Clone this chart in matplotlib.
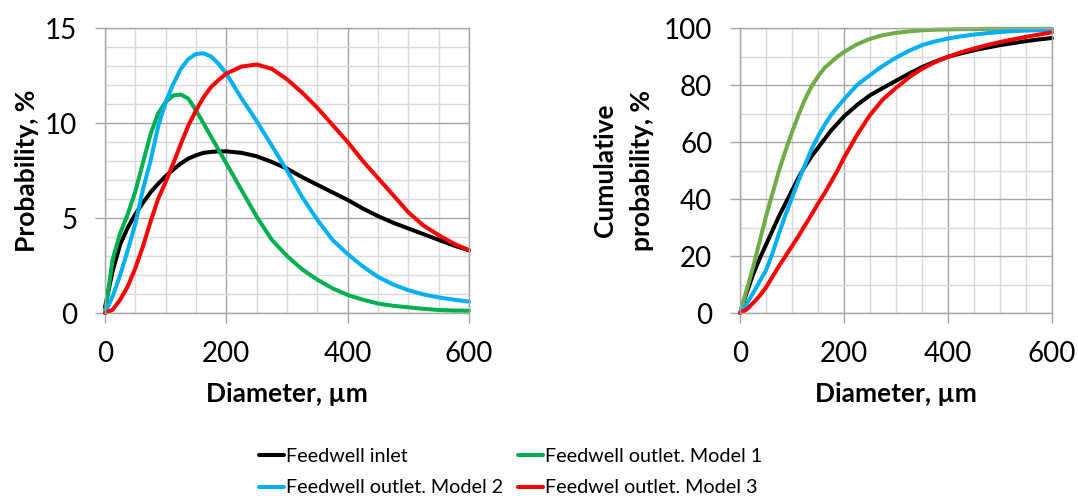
import numpy as np
import matplotlib
matplotlib.use("Agg")
import matplotlib.pyplot as plt
from matplotlib.ticker import MultipleLocator

plt.rcParams["font.family"] = ["Lato", "DejaVu Sans"]

# diameter grid, µm (finer steps where the curves bend most)
diameter = [0, 12.5, 25, 37.5, 50, 62.5, 75, 87.5, 100, 112.5, 125, 137.5,
            150, 162.5, 175, 187.5, 200, 225, 250, 275, 300, 325, 350, 375,
            400, 425, 450, 475, 500, 525, 550, 575, 600]

# probability density, %
prob_inlet = [0.3, 2.2, 3.6, 4.5, 5.2, 5.8, 6.35, 6.8, 7.2, 7.55, 7.87, 8.13,
              8.3, 8.43, 8.48, 8.51, 8.51, 8.43, 8.25, 7.95, 7.6, 7.15, 6.75, 6.35,
              5.95, 5.5, 5.1, 4.75, 4.45, 4.15, 3.85, 3.55, 3.3]
prob_model1 = [0.0, 2.8, 4.2, 5.2, 6.4, 7.9, 9.4, 10.5, 11.1, 11.45, 11.5, 11.28,
               10.66, 9.97, 9.27, 8.57, 7.87, 6.47, 5.07, 3.85, 3.0, 2.3, 1.75, 1.3,
               0.95, 0.7, 0.5, 0.38, 0.3, 0.22, 0.16, 0.13, 0.12]
prob_model2 = [0.0, 0.87, 2.0, 3.3, 4.7, 6.5, 8.0, 9.8, 11.1, 12.06, 12.85, 13.37,
               13.63, 13.67, 13.5, 13.1, 12.6, 11.3, 10.1, 8.8, 7.5, 6.1, 4.9, 3.85,
               3.1, 2.45, 1.9, 1.5, 1.2, 0.98, 0.82, 0.7, 0.6]
prob_model3 = [0.0, 0.17, 0.7, 1.4, 2.36, 3.5, 4.8, 6.0, 6.9, 7.87, 8.9, 9.88,
               10.66, 11.36, 11.9, 12.27, 12.6, 12.97, 13.08, 12.85, 12.3, 11.6, 10.8, 9.9,
               9.0, 8.0, 7.1, 6.2, 5.3, 4.6, 4.1, 3.65, 3.3]

# cumulative probability, %
cum_inlet = [0, 7, 13.5, 19, 24, 29, 34, 38.5, 43, 47.5, 51.5, 55,
             58, 61, 64, 66.5, 69, 73, 76.4, 79, 81.5, 84, 86.3, 88.2,
             89.9, 91.1, 92.2, 93.1, 94, 94.7, 95.4, 96, 96.5]
cum_model1 = [0, 8, 16, 25, 34, 42, 50, 57, 63.5, 69.5, 75, 79.5,
              83, 86, 88, 90, 91.6, 94.3, 96.2, 97.5, 98.3, 98.8, 99.2, 99.4,
              99.5, 99.6, 99.6, 99.7, 99.7, 99.7, 99.7, 99.7, 99.7]
cum_model2 = [0, 3, 7, 11, 15, 21, 28, 34.5, 40.5, 46.5, 52, 57.5,
              62, 66, 69.5, 72.3, 75, 80, 83.5, 86.8, 89.6, 92, 94, 95.3,
              96.3, 97.1, 97.7, 98.2, 98.6, 98.9, 99.1, 99.2, 99.3]
cum_model3 = [0, 1.2, 3.5, 6, 9, 12.8, 16.5, 20, 23.5, 27, 30.8, 34.5,
              38.4, 42, 46, 50, 54.5, 62.5, 69.5, 75, 79, 82.7, 85.7, 88,
              89.9, 91.5, 92.8, 94, 95.1, 96, 96.9, 97.7, 98.5]

labels = ["Feedwell inlet", "Feedwell outlet. Model 1",
          "Feedwell outlet. Model 2", "Feedwel outlet. Model 3"]
colors_left = ["#000000", "#00B050", "#00B0F0", "#FF0000"]
colors_right = ["#000000", "#70AD47", "#00B0F0", "#FF0000"]

major_grid = "#a6a6a6"
minor_grid = "#d9d9d9"

fig = plt.figure(figsize=(10.78, 5.03), dpi=100)
ax1 = fig.add_axes([0.0974, 0.3777, 0.3377, 0.5666])
ax2 = fig.add_axes([0.6865, 0.3777, 0.2894, 0.5666])


def style_axes(ax, ymax, ymajor, yminor):
    ax.set_xlim(0, 600)
    ax.set_ylim(0, ymax)
    ax.xaxis.set_major_locator(MultipleLocator(200))
    ax.xaxis.set_minor_locator(MultipleLocator(50))
    ax.yaxis.set_major_locator(MultipleLocator(ymajor))
    ax.yaxis.set_minor_locator(MultipleLocator(yminor))
    ax.grid(which="major", color=major_grid, linewidth=1.0)
    ax.grid(which="minor", color=minor_grid, linewidth=1.0)
    ax.set_axisbelow(True)
    for sp in ax.spines.values():
        sp.set_color(major_grid)
        sp.set_linewidth(1.0)
    ax.tick_params(which="major", length=7, width=1.0, color=major_grid,
                   labelsize=20, pad=13)
    ax.tick_params(which="minor", length=0)
    ax.set_xlabel("Diameter, µm", fontsize=19, fontweight="bold", labelpad=11)


series_left = [prob_inlet, prob_model1, prob_model2, prob_model3]
series_right = [cum_inlet, cum_model1, cum_model2, cum_model3]

handles = []
for y, c, lab in zip(series_left, colors_left, labels):
    h, = ax1.plot(diameter, y, color=c, linewidth=2.9, label=lab,
                  solid_capstyle="round", solid_joinstyle="round", clip_on=False)
    handles.append(h)
for y, c in zip(series_right, colors_right):
    ax2.plot(diameter, y, color=c, linewidth=2.9, solid_capstyle="round",
             solid_joinstyle="round", clip_on=False)

style_axes(ax1, 15, 5, 1)
style_axes(ax2, 100, 20, 10)
ax1.set_ylabel("Probability, %", fontsize=19, fontweight="bold", labelpad=4)
ax2.set_ylabel("Cumulative\nprobability, %", fontsize=19, fontweight="bold",
               labelpad=7, linespacing=1.65)

# legend: row 1 inlet / model 1, row 2 model 2 / model 3
order = [0, 2, 1, 3]
fig.legend([handles[i] for i in order], [labels[i] for i in order],
           loc="center", bbox_to_anchor=(511 / 1078, 0.061), ncol=2,
           frameon=False, fontsize=14.2, handlelength=1.25, handletextpad=0.12,
           columnspacing=0.75, labelspacing=0.72, borderpad=0)

fig.savefig("out.png", dpi=100)
